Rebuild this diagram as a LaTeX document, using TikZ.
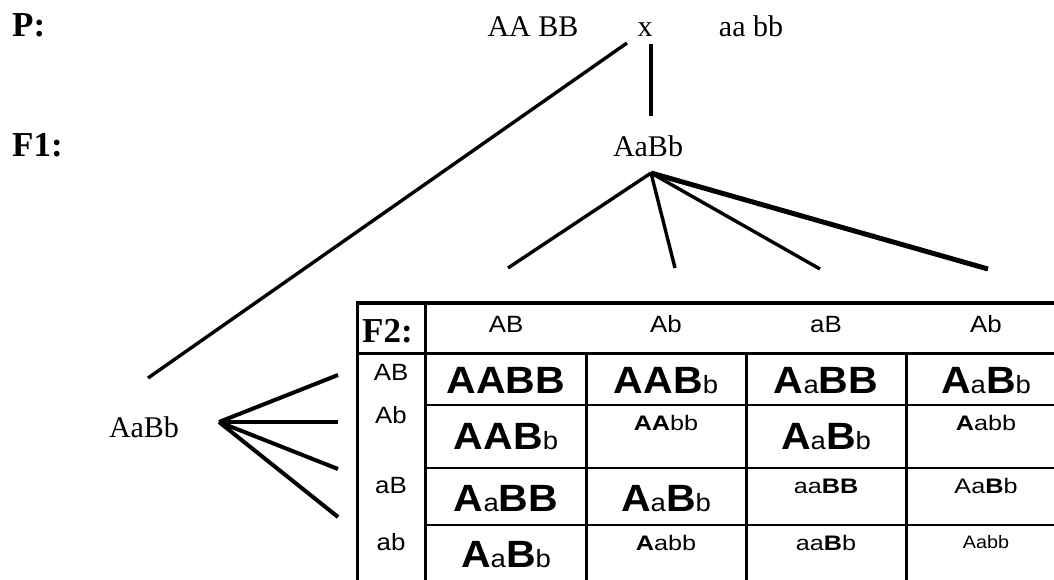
\documentclass[tikz,border=0pt]{standalone}
\usepackage{fontspec}
\setmainfont{Liberation Serif}
\newfontfamily\sansBig[FakeStretch=1.08]{Liberation Sans}
\newfontfamily\sansMid[FakeStretch=1.1]{Liberation Sans}
\newfontfamily\sansSm[FakeStretch=1.2]{Liberation Sans}
\newcommand\BG[1]{{\fontsize{38}{38}\selectfont\sansBig\bfseries #1}}
\newcommand\bs[1]{{\fontsize{25}{25}\selectfont\sansMid #1}}
\begin{document}
\begin{tikzpicture}[x=1pt,y=-1pt,
  serif/.style={font=\fontsize{30}{30}\selectfont, inner sep=0, anchor=base},
  lab/.style={font=\fontsize{35}{35}\selectfont\bfseries, inner sep=0, anchor=base west},
  hdr/.style={font=\fontsize{23.5}{23.5}\selectfont\sansMid, inner sep=0, anchor=base},
  bigc/.style={inner sep=0, anchor=base},
  smc/.style={font=\fontsize{21}{21}\selectfont\sansSm, inner sep=0, anchor=base},
  tinyc/.style={font=\fontsize{18}{18}\selectfont\sansMid, inner sep=0, anchor=base},
  ln/.style={line width=3.4pt},
  thk/.style={line width=4pt},
  grid/.style={line width=3pt},
  rowl/.style={line width=2.8pt}]
\useasboundingbox (0,0) rectangle (1054,580);

% labels
\node[lab] (P) at (12,37) {P:};
\node[lab] (F1) at (12,157) {F1:};

% parents
\node[serif] (p1) at (533,37) {AA BB};
\node[serif] (cross) at (645,37) {x};
\node[serif] (p2) at (751,37) {aa bb};
\node[serif] (f1) at (648,157) {AaBb};
\node[serif] (f1b) at (144,437) {AaBb};

% connector points
\coordinate (dtop) at (627,43);
\coordinate (dbot) at (148,378);
\coordinate (vtop) at (651,44);
\coordinate (vbot) at (651,116);
\coordinate (fa) at (651,173);
\coordinate (fe1) at (508,268);
\coordinate (fe2) at (675,268);
\coordinate (fe3) at (820,269);
\coordinate (fe4) at (988,269);
\coordinate (la) at (219,422);
\coordinate (le1) at (338,375);
\coordinate (le2) at (338,422);
\coordinate (le3) at (338,469);
\coordinate (le4) at (338,517);

\draw[ln] (dtop) -- (dbot);
\draw[thk] (vtop) -- (vbot);
\draw[ln] (fa) -- (fe1);
\draw[ln] (fa) -- (fe2);
\draw[ln] (fa) -- (fe3);
\draw[line width=5pt] (fa) -- (fe4);
\draw[thk] (la) -- (le1);
\draw[thk] (la) -- (le2);
\draw[thk] (la) -- (le3);
\draw[thk] (la) -- (le4);

% table grid
\draw[line width=3.4pt] (357,303) -- (1056,303);
\draw[grid] (357,353) -- (1056,353);
\draw[grid] (357,301.3) -- (357,582);
\draw[grid] (425,301.3) -- (425,582);
\foreach \cx in {586,746,906} \draw[grid] (\cx,353) -- (\cx,582);
\foreach \ry in {405,468,525} \draw[rowl] (425,\ry) -- (1056,\ry);

% table header
\node[lab] (F2) at (362,342) {F2:};
\node[hdr] (h1) at (506,332) {AB};
\node[hdr] (h2) at (666,332) {Ab};
\node[hdr] (h3) at (826,332) {aB};
\node[hdr] (h4) at (986,332) {Ab};

% row labels
\node[hdr] (r1) at (391,380) {AB};
\node[hdr] (r2) at (391,423) {Ab};
\node[hdr] (r3) at (391,493) {aB};
\node[hdr] (r4) at (391,550) {ab};

% row 1
\node[bigc] (c11) at (506,393) {\BG{AABB}};
\node[bigc] (c12) at (666,393) {\BG{AAB}\bs{b}};
\node[bigc] (c13) at (826,393) {\BG{A}\bs{a}\BG{BB}};
\node[bigc] (c14) at (986,393) {\BG{A}\bs{a}\BG{B}\bs{b}};
% row 2
\node[bigc] (c21) at (506,449) {\BG{AAB}\bs{b}};
\node[smc] (c22) at (666,430) {{\bfseries AA}bb};
\node[bigc] (c23) at (826,449) {\BG{A}\bs{a}\BG{B}\bs{b}};
\node[smc] (c24) at (986,430) {{\bfseries A}abb};
% row 3
\node[bigc] (c31) at (506,511) {\BG{A}\bs{a}\BG{BB}};
\node[bigc] (c32) at (666,511) {\BG{A}\bs{a}\BG{B}\bs{b}};
\node[smc] (c33) at (826,493) {aa{\bfseries BB}};
\node[smc] (c34) at (986,493) {Aa{\bfseries B}b};
% row 4
\node[bigc] (c41) at (506,567) {\BG{A}\bs{a}\BG{B}\bs{b}};
\node[smc] (c42) at (666,550) {{\bfseries A}abb};
\node[smc] (c43) at (826,550) {aa{\bfseries B}b};
\node[tinyc] (c44) at (986,548) {Aabb};
\end{tikzpicture}
\end{document}
